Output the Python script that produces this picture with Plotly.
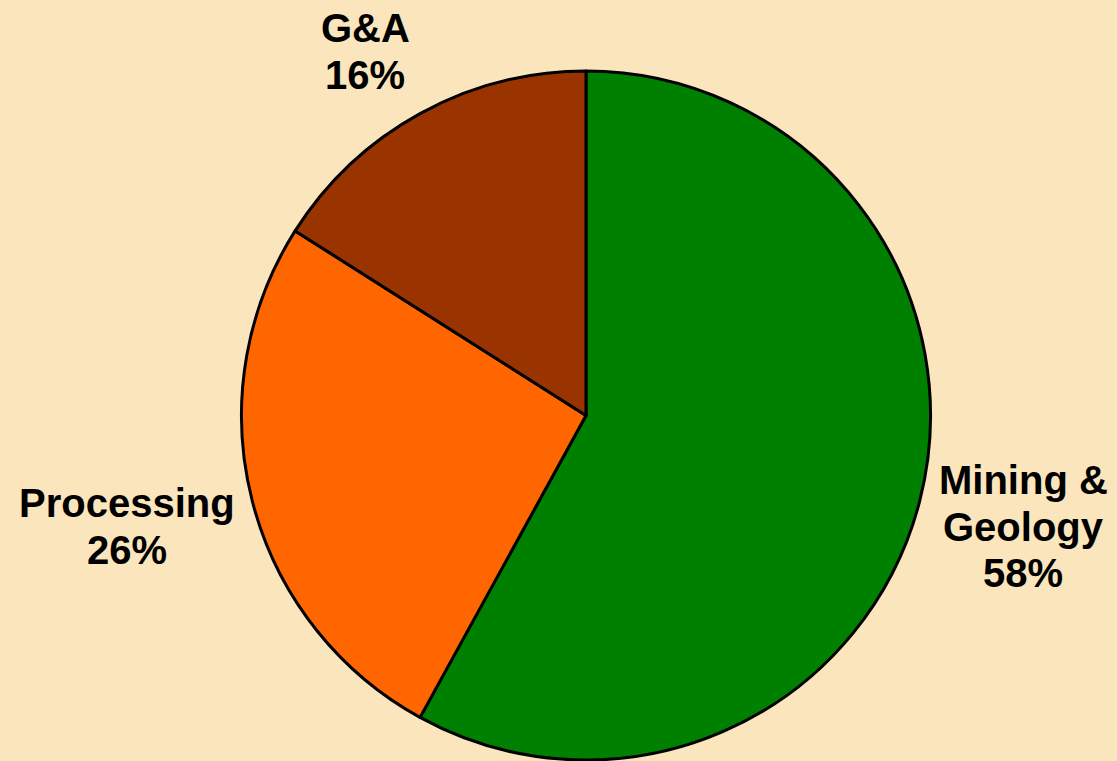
import plotly.graph_objects as go

categories = ["Mining & Geology", "Processing", "G&A"]
label_lines = [["Mining &", "Geology"], ["Processing"], ["G&A"]]
values = [58, 26, 16]
colors = ["#008000", "#FF6600", "#993300"]

W, H = 1117, 761
cx, cy, r = 586, 415.5, 344.5
BG = "#FAE5BC"

# label anchor: center x, baseline of first line (pixels); line spacing
label_pos = [(1023, 492), (127, 515), (365, 40)]
line_gap = 46.5
fsize = 40

fig = go.Figure(go.Pie(
    labels=categories,
    values=values,
    sort=False,
    direction="clockwise",
    rotation=0,
    textinfo="none",
    marker=dict(colors=colors, line=dict(color="black", width=3)),
    domain=dict(x=[(cx - r) / W, (cx + r) / W], y=[1 - (cy + r) / H, 1 - (cy - r) / H]),
    showlegend=False,
))

for lines, v, (px, py) in zip(label_lines, values, label_pos):
    all_lines = lines + [f"{v}%"]
    for i, t in enumerate(all_lines):
        base = py + i * line_gap
        fig.add_annotation(
            x=px / W, y=1 - (base - 0.3 * fsize) / H, xref="paper", yref="paper",
            text=t,
            showarrow=False, xanchor="center", yanchor="middle", align="center",
            font=dict(family="Liberation Sans, Arial, sans-serif", size=fsize, color="black", weight="bold"),
        )

fig.update_layout(
    width=W, height=H,
    margin=dict(l=0, r=0, t=0, b=0),
    paper_bgcolor=BG,
    plot_bgcolor=BG,
)

fig.write_html(
    "out.html",
    config={"displayModeBar": False},
    post_script=f"document.body.style.margin='0';document.body.style.background='{BG}';",
)
